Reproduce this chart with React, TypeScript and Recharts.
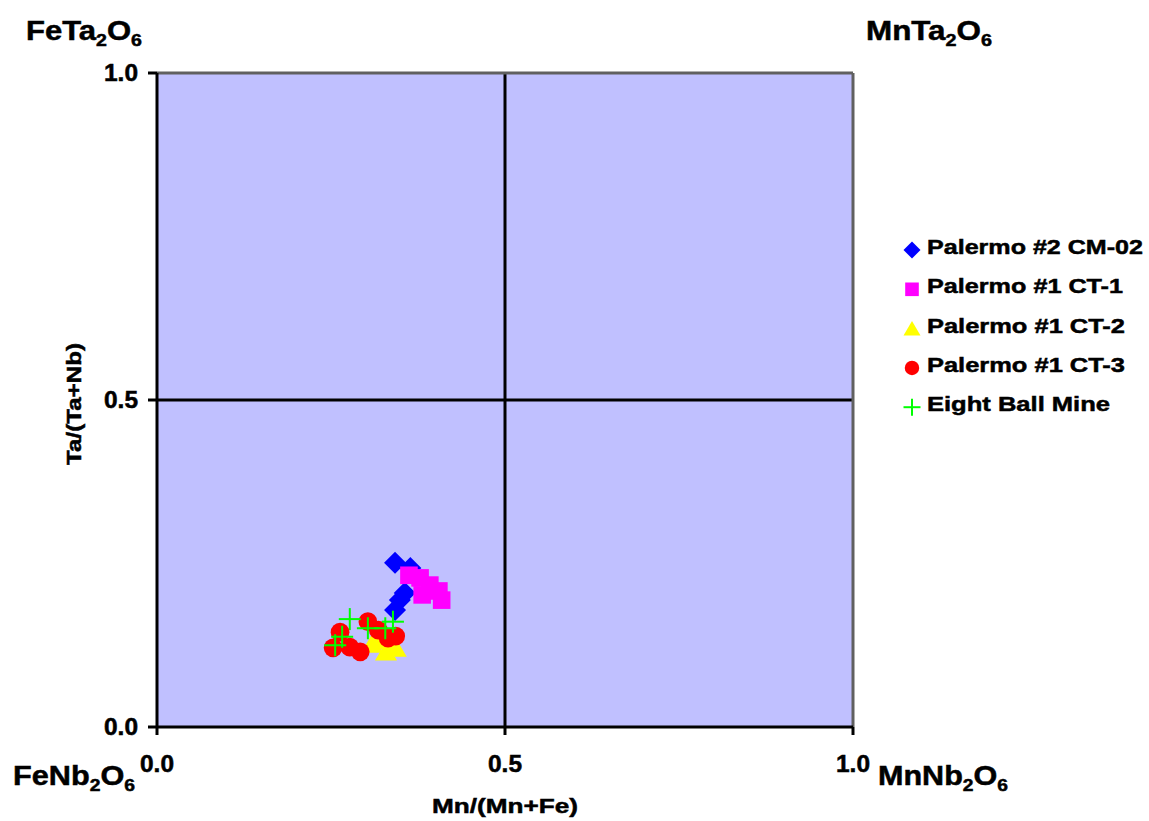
import { ScatterChart, Scatter, XAxis, YAxis, CartesianGrid, ReferenceLine } from 'recharts';

const axisTicks = [0, 0.5, 1];

const palermo2CM02 = [
    { x: 0.342, y: 0.251 },
    { x: 0.364, y: 0.243 },
    { x: 0.356, y: 0.205 },
    { x: 0.349, y: 0.194 },
    { x: 0.342, y: 0.179 },
];

const palermo1CT1 = [
    { x: 0.362, y: 0.232 },
    { x: 0.378, y: 0.228 },
    { x: 0.392, y: 0.217 },
    { x: 0.381, y: 0.202 },
    { x: 0.405, y: 0.208 },
    { x: 0.409, y: 0.194 },
];

const palermo1CT2 = [
    { x: 0.309, y: 0.127 },
    { x: 0.329, y: 0.115 },
    { x: 0.343, y: 0.121 },
    { x: 0.335, y: 0.133 },
    { x: 0.32, y: 0.133 },
];

const palermo1CT3 = [
    { x: 0.263, y: 0.145 },
    { x: 0.253, y: 0.121 },
    { x: 0.277, y: 0.122 },
    { x: 0.292, y: 0.115 },
    { x: 0.303, y: 0.161 },
    { x: 0.318, y: 0.148 },
    { x: 0.332, y: 0.136 },
    { x: 0.343, y: 0.139 },
];

const eightBallMine = [
    { x: 0.277, y: 0.165 },
    { x: 0.266, y: 0.138 },
    { x: 0.256, y: 0.125 },
    { x: 0.303, y: 0.151 },
    { x: 0.328, y: 0.151 },
    { x: 0.339, y: 0.161 },
];

const FONT = '"Liberation Sans", Arial, sans-serif';
// faux-heavy text, the original is rendered fatter than Liberation bold
const heavy = { fontFamily: FONT, fontWeight: 'bold' as const, fill: '#000', stroke: '#000', strokeWidth: 0.5 };

type Kind = 'diamond' | 'square' | 'triangle' | 'circle' | 'cross';

function marker(kind: Kind, cx: number, cy: number, color: string, s: number) {
    switch (kind) {
        case 'diamond':
            return <path d={`M${cx},${cy - s}L${cx + s},${cy}L${cx},${cy + s}L${cx - s},${cy}Z`} fill={color} />;
        case 'square':
            return <rect x={cx - s * 0.8} y={cy - s * 0.8} width={s * 1.6} height={s * 1.6} fill={color} />;
        case 'triangle':
            return <path d={`M${cx},${cy - s * 0.9}L${cx + s},${cy + s * 0.8}L${cx - s},${cy + s * 0.8}Z`} fill={color} />;
        case 'circle':
            return <circle cx={cx} cy={cy} r={s * 0.85} fill={color} />;
        default:
            return (
                <g stroke={color} strokeWidth={2}>
                    <line x1={cx - s} y1={cy} x2={cx + s} y2={cy} />
                    <line x1={cx} y1={cy - s} x2={cx} y2={cy + s} />
                </g>
            );
    }
}

const series: { name: string; data: { x: number; y: number }[]; color: string; kind: Kind; labelWidth: number }[] = [
    { name: 'Palermo #2 CM-02', data: palermo2CM02, color: '#0000FF', kind: 'diamond', labelWidth: 216 },
    { name: 'Palermo #1 CT-1', data: palermo1CT1, color: '#FF00FF', kind: 'square', labelWidth: 196 },
    { name: 'Palermo #1 CT-2', data: palermo1CT2, color: '#FFFF00', kind: 'triangle', labelWidth: 198 },
    { name: 'Palermo #1 CT-3', data: palermo1CT3, color: '#FF0000', kind: 'circle', labelWidth: 198 },
    { name: 'Eight Ball Mine', data: eightBallMine, color: '#00FF00', kind: 'cross', labelWidth: 183 },
];

const XTick = (props: any) => {
    const { x, y, payload } = props;
    return (
        <text x={x} y={y + 17} textAnchor="middle" fontSize={23} textLength={34} lengthAdjust="spacingAndGlyphs" {...heavy}>
            {payload.value.toFixed(1)}
        </text>
    );
};

const YTick = (props: any) => {
    const { x, y, payload } = props;
    return (
        <text x={x} y={y + 8} textAnchor="end" fontSize={23} textLength={34} lengthAdjust="spacingAndGlyphs" {...heavy}>
            {payload.value.toFixed(1)}
        </text>
    );
};

function Formula({ x, y, metal, anion, width }: { x: number; y: number; metal: string; anion: string; width: number }) {
    return (
        <text x={x} y={y} fontSize={27} textLength={width} lengthAdjust="spacingAndGlyphs" {...heavy}>
            {metal}{anion}
            <tspan fontSize={17} dy={6}>2</tspan>
            <tspan dy={-6}>O</tspan>
            <tspan fontSize={17} dy={6}>6</tspan>
        </text>
    );
}

export default function App() {
    return (
        <div style={{ position: 'absolute', left: 0, top: 0, width: 1149, height: 821, background: '#fff' }}>
            <ScatterChart width={1149} height={821} margin={{ top: 73, right: 296, bottom: 0, left: 0 }}>
                <CartesianGrid fill="#C0C0FF" horizontal={false} vertical={false} />
                <XAxis
                    type="number"
                    dataKey="x"
                    domain={[0, 1]}
                    ticks={axisTicks}
                    height={94}
                    tickSize={8}
                    tickMargin={20}
                    tick={<XTick />}
                    axisLine={{ stroke: '#000', strokeWidth: 3 }}
                    tickLine={{ stroke: '#000', strokeWidth: 3 }}
                    label={{
                        content: () => (
                            <text x={505} y={813} textAnchor="middle" fontSize={21} textLength={146}
                                lengthAdjust="spacingAndGlyphs" {...heavy}>
                                Mn/(Mn+Fe)
                            </text>
                        ),
                    }}
                />
                <YAxis
                    type="number"
                    dataKey="y"
                    domain={[0, 1]}
                    ticks={axisTicks}
                    width={157}
                    tickSize={9}
                    tickMargin={10}
                    tick={<YTick />}
                    axisLine={{ stroke: '#000', strokeWidth: 3 }}
                    tickLine={{ stroke: '#000', strokeWidth: 3 }}
                    label={{
                        content: () => (
                            <text transform="translate(81,404) rotate(-90)" textAnchor="middle" fontSize={21}
                                textLength={122} lengthAdjust="spacingAndGlyphs" {...heavy}>
                                Ta/(Ta+Nb)
                            </text>
                        ),
                    }}
                />
                <ReferenceLine x={0.5} stroke="#000" strokeWidth={3} />
                <ReferenceLine y={0.5} stroke="#000" strokeWidth={3} />
                <ReferenceLine y={1} stroke="#606060" strokeWidth={3} />
                <ReferenceLine x={1} stroke="#606060" strokeWidth={3} />
                {series.map((s) => (
                    <Scatter
                        key={s.name}
                        name={s.name}
                        data={s.data}
                        fill={s.color}
                        isAnimationActive={false}
                        shape={(p: any) => marker(s.kind, p.cx, p.cy, s.color, 11)}
                    />
                ))}
            </ScatterChart>
            <svg width={1149} height={821} style={{ position: 'absolute', left: 0, top: 0, pointerEvents: 'none' }}>
                <Formula x={26} y={40} metal="Fe" anion="Ta" width={116} />
                <Formula x={866} y={40} metal="Mn" anion="Ta" width={126} />
                <Formula x={13} y={785} metal="Fe" anion="Nb" width={122} />
                <Formula x={878} y={785} metal="Mn" anion="Nb" width={130} />
                {series.map((s, i) => {
                    const base = 254 + i * 39.3;
                    return (
                        <g key={s.name}>
                            {marker(s.kind, 912, base - 4, s.color, 8.5)}
                            <text x={927} y={base} fontSize={21} textLength={s.labelWidth}
                                lengthAdjust="spacingAndGlyphs" {...heavy}>
                                {s.name}
                            </text>
                        </g>
                    );
                })}
            </svg>
        </div>
    );
}
